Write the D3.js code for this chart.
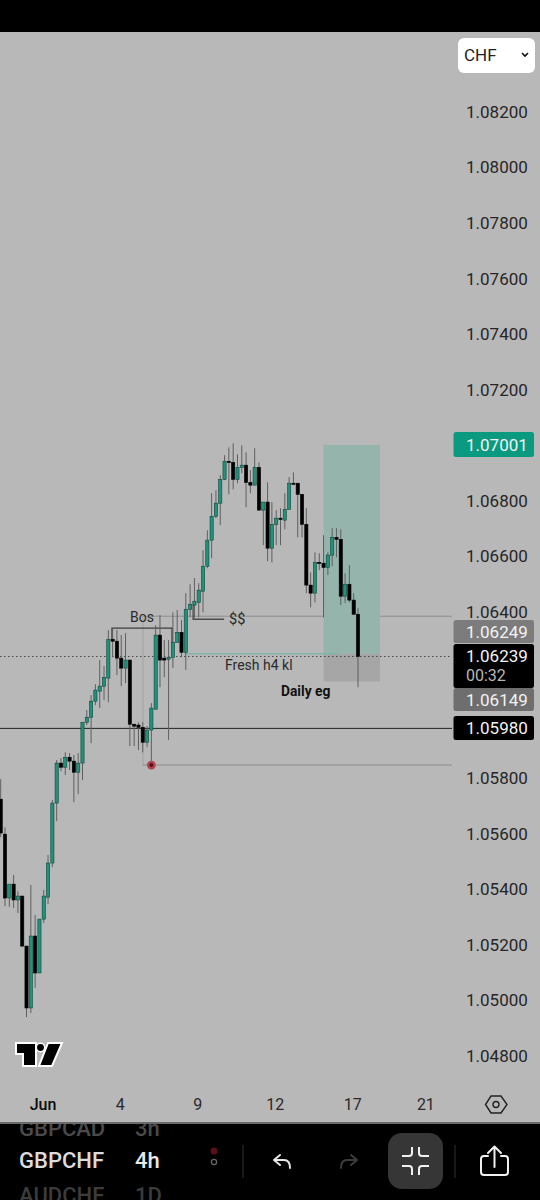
<!DOCTYPE html>
<html>
<head>
<meta charset="utf-8">
<style>html,body{margin:0;padding:0;background:#000;overflow:hidden}svg{display:block}text{font-family:Roboto,sans-serif}</style>
<script src="https://cdn.jsdelivr.net/npm/d3@7/dist/d3.min.js"></script>
</head>
<body>
<svg id="chart" width="540" height="1200"></svg>
<script>
// GBPCHF 4h candles, oldest first
const opens = [1.05725,1.05599,1.05369,1.05419,1.05362,1.05376,1.05196,1.04973,1.05232,1.05099,1.05293,1.05372,1.05495,1.05711,1.05855,1.05840,1.05876,1.05862,1.05822,1.05855,1.06002,1.06020,1.06078,1.06114,1.06132,1.06161,1.06301,1.06294,1.06233,1.06197,1.06226,1.05995,1.05992,1.05984,1.05930,1.05974,1.06049,1.06316,1.06233,1.06229,1.06236,1.06290,1.06326,1.06254,1.06409,1.06424,1.06434,1.06474,1.06564,1.06658,1.06744,1.06791,1.06877,1.06942,1.06938,1.06877,1.06920,1.06928,1.06866,1.06856,1.06920,1.06766,1.06795,1.06629,1.06715,1.06737,1.06730,1.06769,1.06863,1.06863,1.06823,1.06715,1.06496,1.06467,1.06578,1.06575,1.06560,1.06604,1.06668,1.06661,1.06456,1.06499,1.06442,1.06391];
const highs = [1.05797,1.05624,1.05419,1.05452,1.05394,1.05376,1.05196,1.05416,1.05308,1.05293,1.05398,1.05524,1.05722,1.05866,1.05873,1.05894,1.05891,1.05884,1.05891,1.06002,1.06046,1.06100,1.06139,1.06226,1.06204,1.06334,1.06341,1.06334,1.06316,1.06323,1.06226,1.05995,1.06002,1.06002,1.05988,1.06071,1.06352,1.06388,1.06298,1.06298,1.06398,1.06406,1.06370,1.06467,1.06499,1.06521,1.06503,1.06622,1.06694,1.06827,1.06838,1.06892,1.06964,1.06992,1.07007,1.06967,1.06999,1.06974,1.06910,1.06989,1.06938,1.06795,1.06866,1.06795,1.06766,1.06773,1.06827,1.06885,1.06902,1.06863,1.06823,1.06773,1.06542,1.06614,1.06611,1.06676,1.06614,1.06701,1.06701,1.06697,1.06539,1.06568,1.06467,1.06413];
const lows = [1.05588,1.05340,1.05337,1.05333,1.05315,1.05192,1.04940,1.04955,1.05045,1.05099,1.05279,1.05347,1.05480,1.05646,1.05826,1.05812,1.05830,1.05714,1.05743,1.05794,1.05992,1.05927,1.06064,1.06053,1.06082,1.06074,1.06236,1.06172,1.06132,1.06143,1.05916,1.05916,1.05902,1.05894,1.05912,1.05848,1.06049,1.06128,1.06164,1.05938,1.06197,1.06290,1.06236,1.06190,1.06380,1.06377,1.06380,1.06398,1.06557,1.06593,1.06737,1.06712,1.06874,1.06823,1.06841,1.06863,1.06899,1.06776,1.06827,1.06856,1.06766,1.06640,1.06582,1.06578,1.06640,1.06640,1.06697,1.06769,1.06859,1.06668,1.06668,1.06467,1.06416,1.06434,1.06550,1.06380,1.06532,1.06564,1.06596,1.06424,1.06431,1.06434,1.06391,1.06128];
const closes = [1.05603,1.05369,1.05419,1.05362,1.05376,1.05196,1.04973,1.05232,1.05099,1.05293,1.05376,1.05495,1.05711,1.05855,1.05840,1.05876,1.05862,1.05822,1.05855,1.06002,1.06020,1.06078,1.06118,1.06132,1.06164,1.06301,1.06294,1.06233,1.06197,1.06226,1.05995,1.05988,1.05984,1.05930,1.05974,1.06053,1.06316,1.06226,1.06226,1.06236,1.06290,1.06326,1.06254,1.06409,1.06427,1.06438,1.06478,1.06564,1.06658,1.06744,1.06791,1.06877,1.06942,1.06938,1.06877,1.06920,1.06928,1.06866,1.06856,1.06920,1.06766,1.06795,1.06629,1.06715,1.06737,1.06733,1.06769,1.06863,1.06859,1.06823,1.06715,1.06496,1.06467,1.06578,1.06575,1.06560,1.06604,1.06668,1.06661,1.06456,1.06499,1.06442,1.06391,1.06239];

// Axis labels; date ticks sit on candle positions
const priceTicks = [1.082,1.08,1.078,1.076,1.074,1.072,1.068,1.066,1.064,1.058,1.056,1.054,1.052,1.05,1.048];
const dateLabels = ["Jun","4","9","12","17","21"];
const dateIndex = [10,28,46,64,82,99];

// Price levels and drawing anchors
const lastPrice = 1.06239, horizontalLevel = 1.0598;
const targetPrice = 1.07001, entryPrice = 1.06249, stopPrice = 1.06149;
const rangeTop = 1.06384, rangeBottom = 1.05848;

const svg = d3.select("#chart");
const x = d3.scaleLinear().domain([0,83]).range([0.7,358]);
const y = d3.scaleLinear().domain([1.048,1.082]).range([1056,112]);
const candles = opens.map((o,i)=>({i,o,h:highs[i],l:lows[i],c:closes[i]}));

const PLOT_RIGHT = 452;
svg.append("rect").attr("width",540).attr("height",1200).attr("fill","#000");
svg.append("rect").attr("y",32).attr("width",540).attr("height",1091).attr("fill","#b8b8b8");

const polyline = d3.line();

// Range from the swing low up to the liquidity level, open on the right
svg.append("path").attr("fill","none").attr("stroke","#a2a2a2").attr("stroke-width",1)
  .attr("d",polyline([[x(33.05),y(rangeTop)],[x(33.05),y(rangeBottom)]]));
svg.append("path").attr("fill","none").attr("stroke","#8e8e8e").attr("stroke-width",1)
  .attr("d",polyline([[x(33.05),y(rangeTop)],[PLOT_RIGHT,y(rangeTop)]]));
svg.append("path").attr("fill","none").attr("stroke","#8e8e8e").attr("stroke-width",1)
  .attr("d",polyline([[x(33.05),y(rangeBottom)],[PLOT_RIGHT,y(rangeBottom)]]));

// Long position tool: reward zone over risk zone
svg.append("rect").attr("x",x(75)).attr("y",y(targetPrice)).attr("width",x(88.1)-x(75))
  .attr("height",y(entryPrice)-y(targetPrice)).attr("fill","#94b4ac");
svg.append("rect").attr("x",x(75)).attr("y",y(entryPrice)).attr("width",x(88.1)-x(75))
  .attr("height",y(stopPrice)-y(entryPrice)).attr("fill","#a6a6a6");

// Fresh h4 key level line
svg.append("line").attr("x1",x(42.7)).attr("x2",x(78.3)).attr("y1",y(entryPrice)).attr("y2",y(entryPrice))
  .attr("stroke","#7fb5a8").attr("stroke-width",1.5);

// Last price and the horizontal level
svg.append("line").attr("x1",0).attr("x2",PLOT_RIGHT).attr("y1",y(lastPrice)).attr("y2",y(lastPrice))
  .attr("stroke","#444").attr("stroke-dasharray","1.5 2.5");
svg.append("line").attr("x1",0).attr("x2",PLOT_RIGHT).attr("y1",y(horizontalLevel)).attr("y2",y(horizontalLevel))
  .attr("stroke","#222").attr("stroke-width",1);

// Break of structure and liquidity markers
svg.append("path").attr("fill","none").attr("stroke","#3c3c3c").attr("stroke-width",1.3)
  .attr("d",polyline([[x(25.85),y(1.06301)],[x(25.85),y(1.06341)],[x(39.8),y(1.06341)],[x(39.8),y(1.0629)]]));
svg.append("path").attr("fill","none").attr("stroke","#4a4a4a").attr("stroke-width",1.3)
  .attr("d",polyline([[x(44.7),y(1.06424)],[x(44.7),y(1.06373)],[x(51.9),y(1.06373)]]));

// Wicks, then bodies
svg.append("g").selectAll("line").data(candles).join("line")
  .attr("x1",d=>x(d.i)).attr("x2",d=>x(d.i)).attr("y1",d=>y(d.h)).attr("y2",d=>y(d.l))
  .attr("stroke","#5f5f5f").attr("stroke-width",1);
svg.append("g").selectAll("rect").data(candles).join("rect")
  .attr("x",d=>x(d.i)-1.6).attr("width",3.2)
  .attr("y",d=>y(Math.max(d.o,d.c)))
  .attr("height",d=>Math.max(1.2,Math.abs(y(d.o)-y(d.c))))
  .attr("fill",d=>d.c>=d.o?"#23907a":"#000")
  .attr("stroke",d=>d.c>=d.o?"#0e4a3e":"#000").attr("stroke-width",0.6);

// Marker on the swing low
svg.append("circle").attr("cx",x(35)).attr("cy",y(rangeBottom)).attr("r",4.4).attr("fill","#b04450");
svg.append("circle").attr("cx",x(35)).attr("cy",y(rangeBottom)).attr("r",2).attr("fill","#5c0f18");

// Chart notes
const note = (t,px,py,size,weight,fill) => svg.append("text").attr("x",px).attr("y",py)
  .attr("font-size",size).attr("font-weight",weight).attr("fill",fill).text(t);
note("Bos",130,622,14,400,"#2a2a2a");
note("$$",229,624,14.5,400,"#2a2a2a");
note("Fresh h4 kl",225,670,14,400,"#2a2a2a");
note("Daily eg",281,696,13.8,700,"#111");

// Price axis
const priceAxis = d3.axisRight(y).tickValues(priceTicks).tickSize(0).tickPadding(0).tickFormat(d3.format(".5f"));
const axisG = svg.append("g").attr("transform","translate(466,0)").call(priceAxis);
axisG.select(".domain").remove();
axisG.selectAll("text").attr("font-family","Roboto, sans-serif").attr("font-size",17).attr("fill","#262626");

// Time axis
svg.append("g").selectAll("text").data(dateLabels).join("text")
  .attr("x",(d,i)=>x(dateIndex[i])-(i===0?0.7:1)).attr("y",1110).attr("text-anchor","middle")
  .attr("font-size",16).attr("font-weight",(d,i)=>i===0?500:400)
  .attr("fill",(d,i)=>i===0?"#0c0c0c":"#2a2a2a").text(d=>d);

// Price badges
const badges = [
  {top:432,h:25,fill:"#0a9a80",lines:[targetPrice]},
  {top:620,h:23,fill:"#7c7c7c",lines:[entryPrice]},
  {top:644,h:44,fill:"#000",lines:[lastPrice],sub:"00:32"},
  {top:688,h:23,fill:"#6e6e6e",lines:[stopPrice]},
  {top:716,h:24,fill:"#000",lines:[horizontalLevel]}
];
badges.forEach(b=>{
  svg.append("rect").attr("x",453.5).attr("y",b.top).attr("width",80.5).attr("height",b.h).attr("rx",2.5).attr("fill",b.fill);
  svg.append("text").attr("x",466).attr("y",b.top+(b.sub?18:b.h/2+6)).attr("font-size",17)
    .attr("fill","#f2f2f2").text(d3.format(".5f")(b.lines[0]));
  if(b.sub) svg.append("text").attr("x",466).attr("y",b.top+37).attr("font-size",16).attr("fill","#b8b8b8").text(b.sub);
});

// Currency selector
svg.append("rect").attr("x",458).attr("y",38).attr("width",77).attr("height",35).attr("rx",6).attr("fill","#fff");
note("CHF",464,61,17,400,"#222");
svg.append("path").attr("fill","none").attr("stroke","#111").attr("stroke-width",1.6)
  .attr("d",polyline([[522,53],[525,56],[528,53]]));

// TradingView mark
const logo = svg.append("g").attr("transform","translate(15,1042)");
logo.append("path").attr("fill","#000").attr("stroke","#fff").attr("stroke-width",2)
  .attr("d","M1 1H21V24H8V12H1Z");
logo.append("circle").attr("cx",25.500).attr("cy",5.500).attr("r",4.2).attr("fill","#000").attr("stroke","#fff").attr("stroke-width",1.5);
logo.append("path").attr("fill","#000").attr("stroke","#fff").attr("stroke-width",2)
  .attr("d","M33 1H47L37 24H24Z");

// Chart settings icon
svg.append("path").attr("fill","none").attr("stroke","#222").attr("stroke-width",1.4)
  .attr("d","M491 1096H501L507 1104.5L501 1113H491L485.500 1104.500Z");
svg.append("circle").attr("cx",496).attr("cy",1104.5).attr("r",3).attr("fill","none").attr("stroke","#222").attr("stroke-width",1.4);

// Bottom toolbar
const toolbar = svg.append("g");
toolbar.append("rect").attr("y",1122).attr("width",540).attr("height",2).attr("fill","#6a6a6a");
const clip = svg.append("clipPath").attr("id","bar").append("rect").attr("y",1124).attr("width",540).attr("height",76);
const barText = toolbar.append("g").attr("clip-path","url(#bar)");
const tool = (t,px,py,fill,w,size) => barText.append("text").attr("x",px).attr("y",py).attr("font-size",size)
  .attr("font-weight",w).attr("fill",fill).text(t);
tool("GBPCAD",19,1136,"#4a4a4a",500,22);
tool("3h",135,1136,"#4a4a4a",500,22);
tool("GBPCHF",19,1168,"#dcdcdc",500,22);
tool("4h",135,1168,"#e8e8e8",500,22);
tool("AUDCHF",19,1203,"#3c3c3c",500,22);
tool("1D",135,1203,"#3c3c3c",500,22);

toolbar.append("circle").attr("cx",214).attr("cy",1151).attr("r",3.5).attr("fill","#5a1018");
toolbar.append("circle").attr("cx",214).attr("cy",1162).attr("r",2.6).attr("fill","none").attr("stroke","#666").attr("stroke-width",1.3);
toolbar.append("line").attr("x1",243).attr("x2",243).attr("y1",1145).attr("y2",1178).attr("stroke","#333");
toolbar.append("line").attr("x1",455).attr("x2",455).attr("y1",1145).attr("y2",1178).attr("stroke","#333");

toolbar.append("path").attr("fill","none").attr("stroke","#e6e6e6").attr("stroke-width",2).attr("stroke-linecap","round").attr("stroke-linejoin","round")
  .attr("d","M280 1155L274 1160L280 1165M274 1160H284Q290 1160 290 1168");
toolbar.append("path").attr("fill","none").attr("stroke","#3c3c3c").attr("stroke-width",2).attr("stroke-linecap","round").attr("stroke-linejoin","round")
  .attr("d","M351 1155L357 1160L351 1165M357 1160H347Q341 1160 341 1168");

toolbar.append("rect").attr("x",388).attr("y",1133).attr("width",55).attr("height",56).attr("rx",14).attr("fill","#363636");
toolbar.append("path").attr("fill","none").attr("stroke","#f0f0f0").attr("stroke-width",2).attr("stroke-linejoin","round")
  .attr("d","M402 1156H409Q412 1156 412 1153V1147M429 1156H422Q419 1156 419 1153V1147M402 1166H409Q412 1166 412 1169V1175M429 1166H422Q419 1166 419 1169V1175");

toolbar.append("path").attr("fill","none").attr("stroke","#f0f0f0").attr("stroke-width",2).attr("stroke-linecap","round").attr("stroke-linejoin","round")
  .attr("d","M488 1156H484Q481 1156 481 1159V1172Q481 1175 484 1175H505Q508 1175 508 1172V1159Q508 1156 505 1156H501M494.500 1167V1147M488 1153L494.500 1146.500L501 1153");
</script>
</body>
</html>
